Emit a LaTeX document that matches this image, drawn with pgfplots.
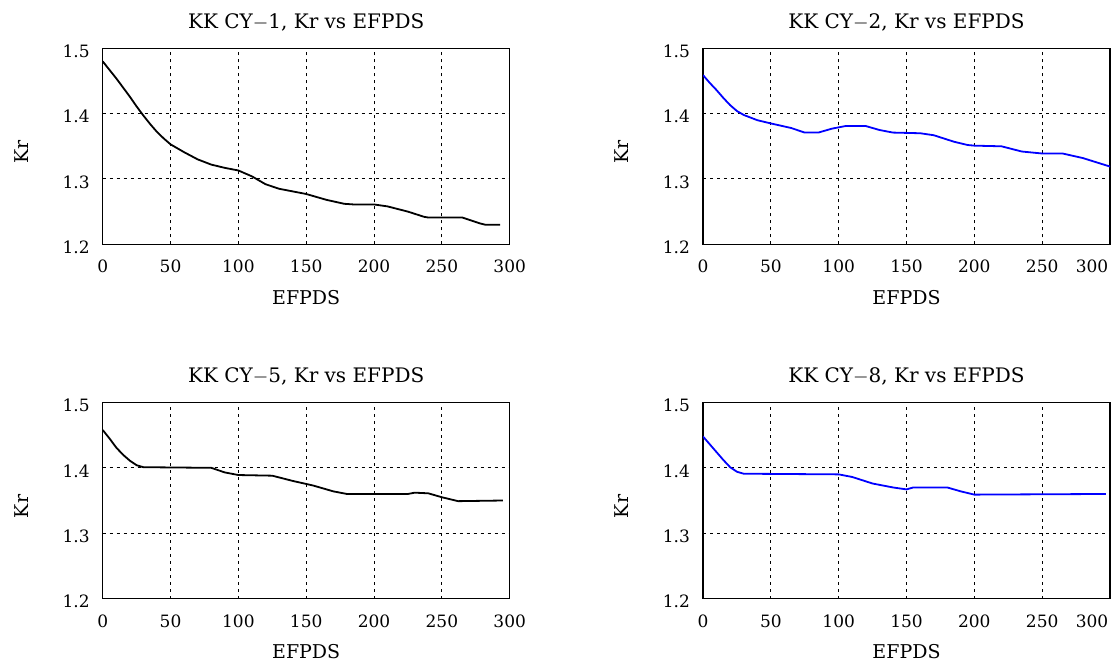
\documentclass[border=0pt]{standalone}
\usepackage{fontspec}
\setmainfont{DejaVu Serif}
\usepackage{pgfplots}
\pgfplotsset{compat=1.18}

\pgfplotsset{
  krpanel/.style={
    scale only axis, width=203.5pt, height=98pt,
    anchor=south west,
    xmin=0, xmax=300, ymin=1.2, ymax=1.5,
    xtick={0,50,100,150,200,250,300},
    ytick={1.2,1.3,1.4,1.5},
    yticklabels={1.2,1.3,1.4,1.5},
    grid=major,
    major grid style={black, line width=0.5pt, dash pattern=on 1.5pt off 2pt},
    axis line style={black, line width=0.7pt},
    major tick length=0pt,
    font=\fontsize{9.5}{11}\selectfont,
    tick label style={font=\fontsize{8.5}{10}\selectfont},
    xticklabel style={yshift=-4.5pt},
    yticklabel style={xshift=-3pt, yshift=-1.5pt},
    /pgf/number format/assume math mode=true,
    xlabel={EFPDS}, ylabel={Kr},
    xlabel style={at={(axis description cs:0.5,-0.27)}, anchor=center},
    ylabel style={at={(axis description cs:-0.2,0.47)}, anchor=center},
    title style={yshift=-1pt, font=\fontsize{10}{12}\selectfont},
  },
  % panels whose last label sits left of its tick
  shiftedend/.style={
    xtick={0,50,100,150,200,250},
    extra x ticks={300},
    extra x tick style={xticklabel style={xshift=-9pt}},
  },
}

\begin{document}
\begin{tikzpicture}
\path[use as bounding box] (0,0) rectangle (559.5pt,333pt);

% KK CY-1
\begin{axis}[krpanel, at={(51.35pt,210.85pt)}, title={KK CY$-$1, Kr vs EFPDS}]
\addplot[black, line width=0.9pt, line join=round] coordinates {
(0,1.480)(5,1.467)(10,1.454)(15,1.440)(20,1.426)(25,1.411)(30,1.397)(35,1.384)
(40,1.372)(45,1.362)(50,1.353)(60,1.341)(70,1.330)(80,1.322)(90,1.317)
(100,1.313)(110,1.304)(120,1.292)(130,1.285)(150,1.277)(165,1.268)(178,1.262)
(185,1.261)(200,1.261)(210,1.258)(225,1.250)(237,1.242)(240,1.241)(265,1.241)
(278,1.232)(282,1.230)(293,1.230)
};
\end{axis}

% KK CY-2
\begin{axis}[krpanel, shiftedend, at={(351.5pt,210.85pt)}, title={KK CY$-$2, Kr vs EFPDS}]
\addplot[blue, line width=0.9pt, line join=round] coordinates {
(0,1.459)(5,1.447)(10,1.436)(15,1.424)(20,1.413)(25,1.404)(30,1.398)(40,1.390)
(50,1.385)(65,1.378)(75,1.371)(85,1.371)(95,1.377)(105,1.381)(120,1.381)
(130,1.375)(140,1.371)(160,1.370)(170,1.367)(185,1.357)(195,1.352)(200,1.351)
(220,1.350)(235,1.342)(250,1.339)(265,1.339)(280,1.332)(300,1.319)
};
\end{axis}

% KK CY-5
\begin{axis}[krpanel, at={(51.35pt,33.75pt)}, title={KK CY$-$5, Kr vs EFPDS}]
\addplot[black, line width=0.9pt, line join=round] coordinates {
(0,1.458)(5,1.445)(10,1.431)(15,1.420)(20,1.411)(25,1.404)(30,1.401)(80,1.400)
(90,1.393)(100,1.389)(125,1.388)(140,1.380)(155,1.373)(170,1.364)(180,1.360)
(225,1.360)(230,1.362)(240,1.361)(250,1.355)(262,1.349)(295,1.350)
};
\end{axis}

% KK CY-8
\begin{axis}[krpanel, shiftedend, at={(351.5pt,33.75pt)}, title={KK CY$-$8, Kr vs EFPDS}]
\addplot[blue, line width=0.9pt, line join=round] coordinates {
(0,1.448)(5,1.436)(10,1.424)(15,1.412)(20,1.401)(25,1.394)(30,1.391)(100,1.390)
(110,1.386)(125,1.376)(140,1.370)(150,1.367)(155,1.370)(180,1.370)(190,1.364)
(200,1.359)(297,1.360)
};
\end{axis}
\end{tikzpicture}
\end{document}
